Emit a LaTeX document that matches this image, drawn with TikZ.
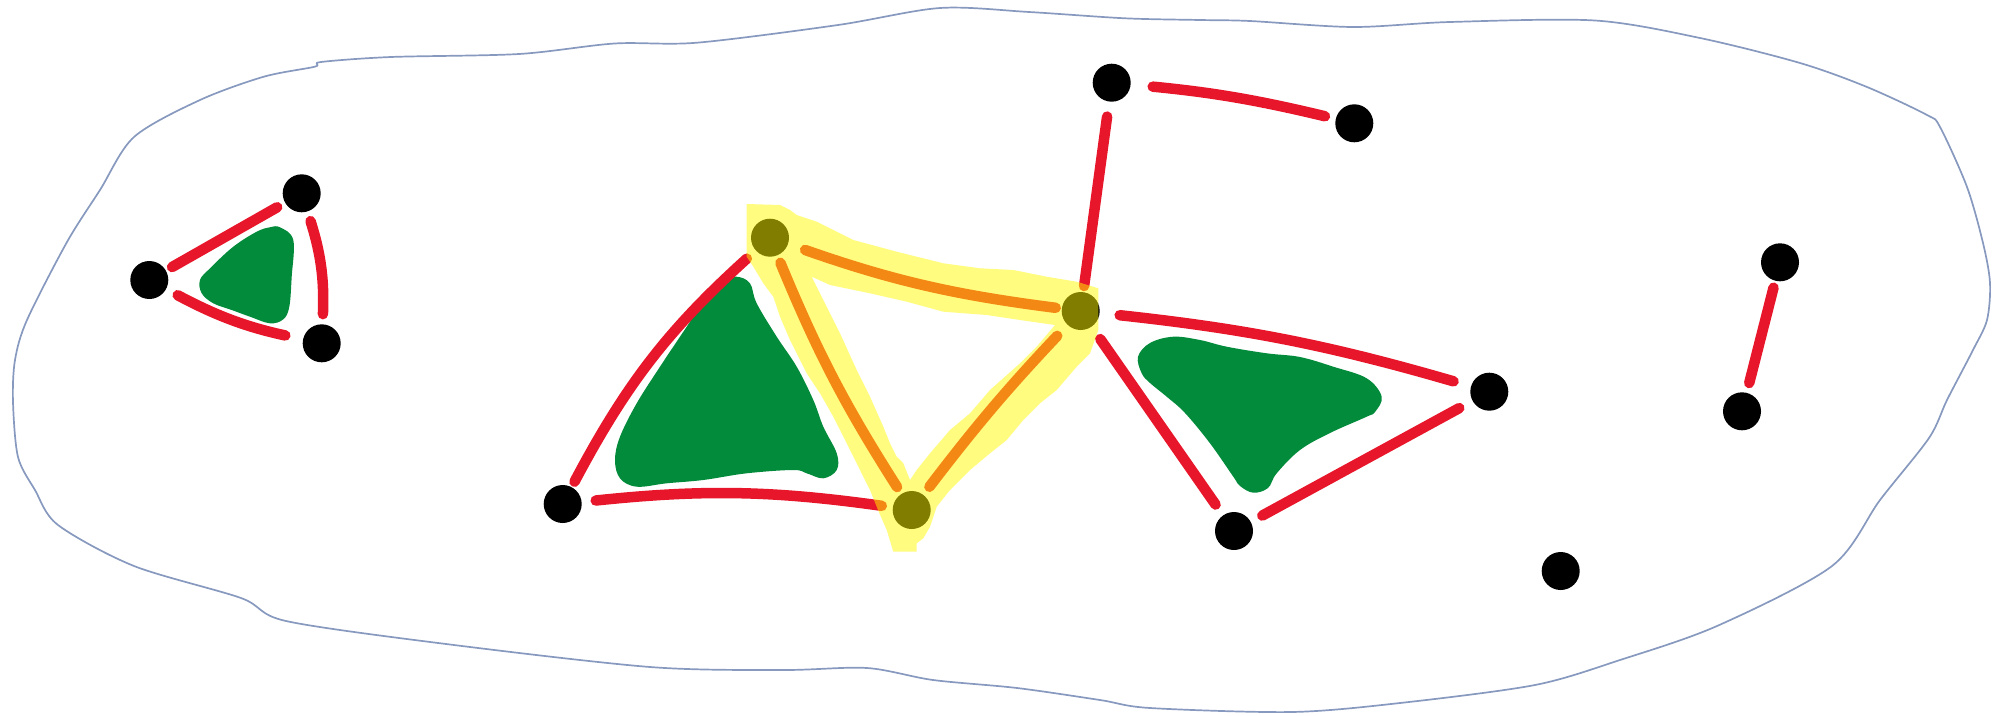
\documentclass[tikz,border=0pt]{standalone}
\usepackage{tikz}
\definecolor{edgered}{RGB}{232,22,42}
\definecolor{blobgreen}{RGB}{3,139,60}
\definecolor{hilite}{RGB}{255,250,0}
\definecolor{outlineblue}{RGB}{135,153,190}
\begin{document}
\begin{tikzpicture}[x=1pt,y=-1pt,
  dot/.style={circle,fill=black,inner sep=0pt,minimum size=38pt},
  redge/.style={draw=edgered,line width=10.5pt,line cap=round},
  blob/.style={fill=blobgreen,draw=none},
  region/.style={draw=outlineblue,line width=1.7pt,line join=round},
  highlight/.style={fill=hilite,fill opacity=0.5,even odd rule,draw=none}]
\useasboundingbox (0,0) rectangle (2000,715);

% outer region
\draw[region] plot[smooth cycle,tension=0.5] coordinates {
 (263.8,76.7) (314.8,66.7) (321,62) (391,57) (519,54) (614.5,43.5) (697,42.7)
 (838,25) (940,8) (1029,12) (1125,18.3) (1200,20) (1250,21) (1353,27)
 (1450,22) (1595,20.5) (1700,38)
 (1800,63) (1867,87) (1927,115) (1940,127) (1967,187) (1983,243) (1990,283)
 (1987,320) (1973,350) (1947,400) (1929,438) (1880,500) (1832,566) (1717,626)
 (1620,660) (1535,685) (1400,703) (1292,712) (1150,708) (1100,700) (1017,688)
 (933,680) (867,668) (783,670) (650,667) (446,644) (286,621) (241,598)
 (134,566) (58,525) (35,490) (18,457) (13,402) (15,360) (27,320) (67,242)
 (100,190) (134,137) (200,100)};

% green faces
\fill[blob] plot[smooth cycle,tension=0.6] coordinates {
 (280,227.3) (293.3,240) (291.7,276.7) (289.3,306.7) (283.3,319.3) (270,323.3)
 (250,316.7) (231.7,310) (213.3,303.3) (201.7,293.3) (200,280) (210,268.3)
 (233.3,246.7) (256.7,231.7) (270,227.3)};
\fill[blob] plot[smooth cycle,tension=0.6] coordinates {
 (720,280) (736.7,276.7) (750,283.3) (756.7,303.3) (776.7,336.7) (796.7,366.7)
 (813.3,400) (823.3,426.7) (836.7,453.3) (836.7,470) (823.3,478.3) (806.7,473.3)
 (793.3,470) (746.7,473.3) (703.3,480) (666.7,483.3) (636.7,486.7) (620,478.3)
 (615,460) (620,436.7) (636.7,403.3) (660,366.7) (686.7,326.7) (706.7,296.7)};
\fill[blob] plot[smooth cycle,tension=0.6] coordinates {
 (1150,343) (1173.3,336.7) (1200,340) (1226.7,346.7) (1266.7,353.3) (1300,357)
 (1333.3,366.7) (1366.7,378.3) (1381.7,396.7) (1375,412) (1366.7,416.7)
 (1330,433) (1300,450) (1276.7,473.3) (1268,488) (1253.3,492.7) (1240,486)
 (1233.3,476.7) (1210,443.3) (1185,413) (1166.7,396.7) (1150,383) (1141.7,373.3)
 (1138,356.7)};

% vertices
\node[dot] (a1) at (149.3,280) {};
\node[dot] (a2) at (301.7,193.3) {};
\node[dot] (a3) at (321.7,343.3) {};
\node[dot] (b1) at (562.7,504) {};
\node[dot] (c1) at (770,237.7) {};
\node[dot] (c2) at (1080.7,311) {};
\node[dot] (c3) at (911.7,510) {};
\node[dot] (d1) at (1111.7,82.7) {};
\node[dot] (d2) at (1354.3,123.3) {};
\node[dot] (e1) at (1489.3,391.7) {};
\node[dot] (e2) at (1234,531) {};
\node[dot] (e3) at (1560.7,571) {};
\node[dot] (f1) at (1780,262.3) {};
\node[dot] (f2) at (1742,411.3) {};

% edges
\draw[redge,shorten <=7pt,shorten >=9pt] (a1) to (a2);
\draw[redge,shorten <=10pt,shorten >=10pt] (a2) to[bend left=10] (a3);
\draw[redge,shorten <=13pt,shorten >=18pt] (a1) to[bend right=8] (a3);
\draw[redge,shorten <=6pt,shorten >=12pt] (b1) to[bend left=10] (c1);
\draw[redge,shorten <=14pt,shorten >=11pt] (b1) to[bend left=7] (c3);
\draw[redge,shorten <=8pt,shorten >=8pt] (c1) to[bend right=5] (c3);
\draw[redge,shorten <=18pt,shorten >=6pt] (c1) to[bend right=6] (c2);
\draw[redge,shorten <=15pt,shorten >=10pt] (c2) to[bend right=3] (c3);
\draw[redge,shorten <=20pt,shorten >=18pt] (c2) to[bend left=5] (e1);
\draw[redge,shorten <=15pt,shorten >=13pt] (c2) to (e2);
\draw[redge,shorten <=13pt,shorten >=15pt] (e2) to (e1);
\draw[redge,shorten <=22pt,shorten >=11pt] (d1) to[bend left=4] (d2);
\draw[redge,shorten <=15pt,shorten >=6pt] (d1) to (c2);
\draw[redge,shorten <=7pt,shorten >=10pt] (f1) to (f2);

% highlighted face (translucent overlay)
\fill[highlight]
 (746.7,204) -- (780,205) -- (790,210) -- (796.7,215) -- (816.7,221.7)
 -- (853.3,240) -- (896.7,251.7) -- (943.3,263.3) -- (980,268.3) -- (1013.3,270)
 -- (1046.7,276.7) -- (1076.7,281.7) -- (1098.3,288.3) -- (1098.3,330)
 -- (1090,353.3) -- (1076.7,366.7) -- (1056.7,390) -- (1040,403.3)
 -- (1023.3,420) -- (1006.7,440) -- (990,453.3) -- (970,470) -- (950,490)
 -- (936.7,506.7) -- (930,526.7) -- (923.3,538.3) -- (916.7,543.3)
 -- (916.7,551.7) -- (893.3,551.7) -- (886.7,530) -- (878,510) -- (870,490)
 -- (863.3,476.7) -- (856.7,463.3) -- (846.7,443.3) -- (833.3,416.7)
 -- (820,393.3) -- (806.7,373.3) -- (790,340) -- (780,316.7) -- (773.3,296.7)
 -- (763.3,283.3) -- (753.3,266.7) -- (746.7,256.7) -- cycle
 (811.7,276.7) -- (830,285) -- (870,293.3) -- (906.7,301.7) -- (943.3,311.7)
 -- (986.7,315) -- (1020,320) -- (1055,325) -- (1036.7,346.7) -- (1020,363.3)
 -- (990,390) -- (970,413.3) -- (950,430) -- (930,453.3) -- (916.7,470)
 -- (910,480) -- (903.3,463.3) -- (896.7,456.7) -- (890,443.3) -- (883.3,426.7)
 -- (870,396.7) -- (856.7,370) -- (840,333.3) -- (826.7,306.7) -- cycle;
\end{tikzpicture}
\end{document}
